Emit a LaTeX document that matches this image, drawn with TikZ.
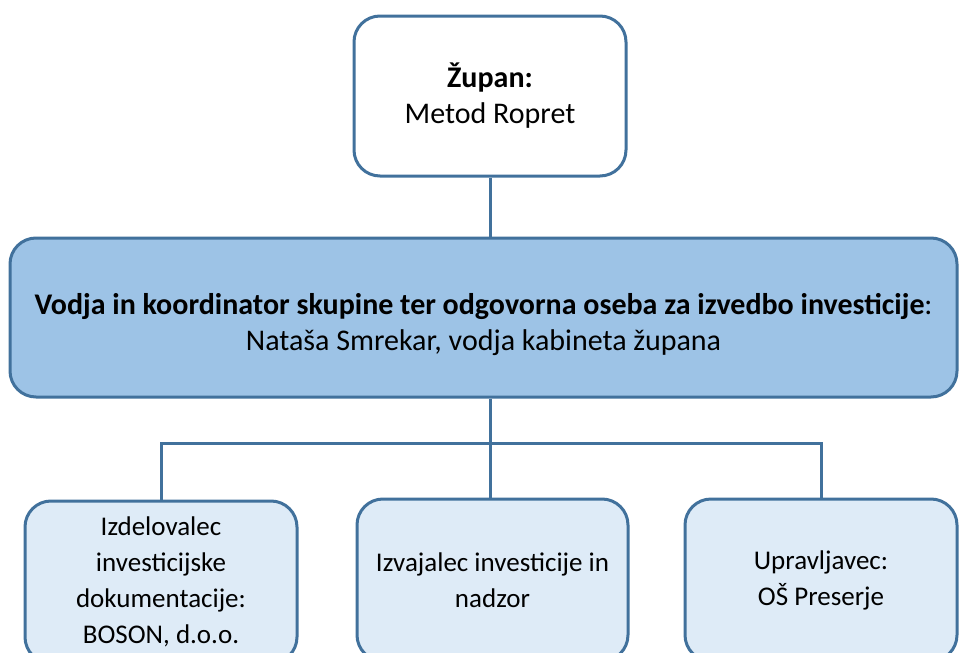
\documentclass[tikz,border=0pt]{standalone}
\usepackage{fontspec}
\setmainfont{Carlito}
\definecolor{bordc}{HTML}{41719C}
\definecolor{midfill}{HTML}{9DC3E6}
\definecolor{lowfill}{HTML}{DEEBF7}
\tikzset{
  box/.style={draw=bordc, line width=3pt, rounded corners=26pt, align=center,
    font=\fontsize{30}{36}\selectfont, inner sep=0pt},
  lowbox/.style={box, fill=lowfill, font=\fontsize{27}{36}\selectfont,
    minimum height=162pt},
  link/.style={draw=bordc, line width=3pt}
}
\begin{document}
\begin{tikzpicture}[x=1pt,y=-1pt]
\useasboundingbox (0,0) rectangle (959,653);
\clip (0,0) rectangle (959,653);
\node[box, fill=white, minimum width=272pt, minimum height=160pt] (top) at (490,96)
  {\textbf{Župan:}\\Metod Ropret};
\node[box, fill=midfill, minimum width=947pt, minimum height=159pt] (mid) at (483.5,317.5) {};
\node[align=center, inner sep=0pt, font=\fontsize{30}{36}\selectfont] (midtext)
  at ([yshift=-7pt]mid.center)
  {\textbf{Vodja in koordinator skupine ter odgovorna oseba za izvedbo investicije}:\\Nataša Smrekar, vodja kabineta župana};
\node[lowbox, minimum width=272pt] (b1) at (161,582)
  {Izdelovalec\\investicijske\\dokumentacije:\\BOSON, d.o.o.};
\node[lowbox, minimum width=271pt] (b2) at (492.5,580)
  {Izvajalec investicije in\\nadzor};
\node[lowbox, minimum width=272pt] (b3) at (821,580)
  {Upravljavec:\\OŠ Preserje};
\coordinate (hub) at (490,443);
\draw[link] (top.south) -- (top.south |- mid.north);
\draw[link] (hub |- mid.south) -- (hub |- b2.north);
\draw[link] (b1.north) |- (hub) -| (b3.north);
\end{tikzpicture}
\end{document}
